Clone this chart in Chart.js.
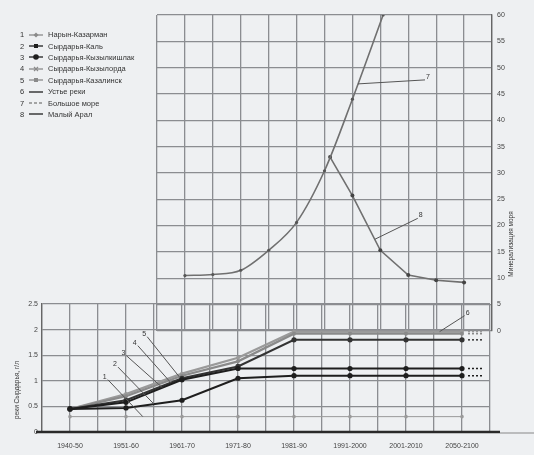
<!DOCTYPE html>
<html><head><meta charset="utf-8">
<script src="https://cdn.jsdelivr.net/npm/chart.js@4"></script>
<style>
html,body{margin:0;padding:0;background:#eef0f2;}
#wrap{position:relative;width:534px;height:455px;overflow:hidden;background:#eef0f2;font-family:"Liberation Sans",Arial,sans-serif;}
canvas{position:absolute;left:0;}
#cu{top:0;} #cl{top:290px;}
#legend{position:absolute;left:20px;top:29px;font-size:7.5px;color:#333;}
.row{height:11.4px;display:flex;align-items:center;white-space:nowrap;}
.num{width:8px;text-align:left;}
svg{margin-right:4px;}
</style></head><body>
<div id="wrap">
<canvas id="cu" width="534" height="340"></canvas>
<canvas id="cl" width="534" height="165"></canvas>
<div id="legend"></div>
</div>
<script>
// ---- data ----
const periods = ["1940-50","1951-60","1961-70","1971-80","1981-90","1991-2000","2001-2010","2050-2100"];
const legendNames = ["Нарын-Казарман","Сырдарья-Каль","Сырдарья-Кызылкишлак","Сырдарья-Кызылорда","Сырдарья-Казалинск","Устье реки","Большое море","Малый Арал"];
// river mineralization, g/l (one value per period)
const narynKazarman   = [0.30,0.30,0.30,0.30,0.30,0.30,0.30,0.30];
const syrKal          = [0.45,0.47,0.62,1.05,1.10,1.10,1.10,1.10];
const syrKyzylkishlak = [0.45,0.58,1.02,1.24,1.24,1.24,1.24,1.24];
const syrKyzylorda    = [0.45,0.62,1.05,1.28,1.80,1.80,1.80,1.80];
const syrKazalinsk    = [0.45,0.70,1.10,1.38,1.92,1.92,1.92,1.92];
const riverMouth      = [0.45,0.74,1.14,1.45,1.96,1.96,1.96,1.96];
// sea mineralization, g/l (position in period index units)
const bigSeaPos   = [2, 2.5, 3, 3.5, 4, 4.5, 5, 5.55];
const bigSea      = [10.5, 10.7, 11.5, 15.3, 20.6, 30.4, 44, 60];
const smallSeaPos = [4.6, 5, 5.5, 6, 6.5, 7];
const smallSea    = [33, 25.7, 15.3, 10.6, 9.6, 9.2];
const upperTicks = {min:0, max:60, step:5};
const lowerTicks = {min:0, max:2.5, step:0.5};

// ---- styles ----
const FONT = '"Liberation Sans", Arial, sans-serif';
const GRID = '#8b8d91';
const BLACK = '#1e1e1e', GRAY = '#8a8a8a';

const pts = (xs, ys) => xs.map((x,i)=>({x, y: ys[i]}));
const idx = arr => arr.map((v,i)=>({x:i, y:v}));

// legend
const legendStyles = [
  {c:GRAY, m:'diamond'}, {c:BLACK, m:'square'}, {c:BLACK, m:'dot'}, {c:GRAY, m:'cross'},
  {c:GRAY, m:'square'}, {c:BLACK, m:'none'}, {c:GRAY, m:'dash'}, {c:BLACK, m:'none'}];
const lg = document.getElementById('legend');
legendNames.forEach((n,i)=>{
  const s = legendStyles[i];
  let mk = '';
  if (s.m==='diamond') mk = `<path d="M8 1.5 L10.5 4 L8 6.5 L5.5 4Z" fill="${s.c}"/>`;
  if (s.m==='square') mk = `<rect x="6" y="2" width="4" height="4" fill="${s.c}"/>`;
  if (s.m==='dot') mk = `<circle cx="8" cy="4" r="2.8" fill="${s.c}"/>`;
  if (s.m==='cross') mk = `<path d="M6 2 L10 6 M10 2 L6 6" stroke="${s.c}" stroke-width="1.2"/>`;
  const dash = s.m==='dash' ? 'stroke-dasharray="3 2"' : '';
  lg.insertAdjacentHTML('beforeend',
    `<div class="row"><span class="num">${i+1}</span><svg width="16" height="8"><line x1="1" y1="4" x2="15" y2="4" stroke="${s.c}" stroke-width="1.3" ${dash}/>${mk}</svg><span>${n}</span></div>`);
});

function interp(data, xv){
  for (let i=0;i<data.length-1;i++){
    const a=data[i], b=data[i+1];
    if (xv>=a.x && xv<=b.x) return a.y + (b.y-a.y)*(xv-a.x)/(b.x-a.x);
  }
  return data[data.length-1].y;
}
function drawLeaders(chart, list){
  const {ctx, scales:{x,y}} = chart;
  ctx.save();
  ctx.strokeStyle = '#555'; ctx.lineWidth = 1; ctx.fillStyle = '#333';
  ctx.font = `7px ${FONT}`; ctx.textAlign='center'; ctx.textBaseline='middle';
  list.forEach(l=>{
    const data = chart.data.datasets[l.ds].data;
    const tx = x.getPixelForValue(l.at), ty = y.getPixelForValue(interp(data, l.at));
    const lx = tx + l.dx, ly = ty + l.dy;
    ctx.beginPath(); ctx.moveTo(lx + (l.dx<0?3:-3), ly + 3); ctx.lineTo(tx, ty); ctx.stroke();
    ctx.fillText(l.t, lx, ly);
  });
  ctx.restore();
}

// ---- upper chart (seas) ----
const upperExtras = {
  id:'upperExtras',
  afterDraw(chart){
    drawLeaders(chart, [
      {ds:0, at:5.1, dx:70, dy:-7, t:'7'},
      {ds:1, at:5.4, dx:46, dy:-24, t:'8'}]);
    const {ctx} = chart;
    ctx.save();
    ctx.translate(511, 244); ctx.rotate(-Math.PI/2);
    ctx.font = `6.5px ${FONT}`; ctx.fillStyle='#333'; ctx.textAlign='center'; ctx.textBaseline='middle';
    ctx.fillText('Минерализация моря', 0, 0);
    ctx.restore();
  }
};
new Chart(document.getElementById('cu'), {
  type:'line',
  data:{datasets:[
    {label:legendNames[6], data:pts(bigSeaPos,bigSea), borderColor:'#707070', borderWidth:1.6,
     pointRadius:1.6, pointBackgroundColor:'#555', pointBorderWidth:0, cubicInterpolationMode:'monotone'},
    {label:legendNames[7], data:pts(smallSeaPos,smallSea), borderColor:'#707070', borderWidth:1.6,
     pointRadius:2, pointBackgroundColor:'#444', pointBorderWidth:0, tension:0}
  ]},
  options:{
    responsive:false, animation:false, devicePixelRatio:1,
    layout:{padding:{left:157, top:15, right:0, bottom:7}},
    plugins:{legend:{display:false}, tooltip:{enabled:false}},
    scales:{
      x:{type:'linear', min:1.5, max:7.5, ticks:{display:false, stepSize:0.5},
         grid:{color:GRID, lineWidth:1.3, drawTicks:false}, border:{display:false},
         afterFit(s){ s.height = 0; }},
      y:{position:'right', min:upperTicks.min, max:upperTicks.max,
         ticks:{stepSize:upperTicks.step, color:'#444', font:{size:7, family:FONT}, padding:5},
         grid:{color:GRID, lineWidth:1.3, drawTicks:false}, border:{color:'#666', width:1.3},
         afterFit(s){ s.width = 42; }}
    }
  },
  plugins:[upperExtras]
});

// ---- lower chart (river) ----
const lowerExtras = {
  id:'lowerExtras',
  afterDraw(chart){
    const {ctx, chartArea:a, scales:{x,y}} = chart;
    ctx.save();
    ctx.strokeStyle='#2a2a2a'; ctx.lineWidth=2.5;
    ctx.beginPath(); ctx.moveTo(a.left-6, a.bottom); ctx.lineTo(a.right+10, a.bottom); ctx.stroke();
    ctx.strokeStyle='#888'; ctx.lineWidth=1;
    ctx.beginPath(); ctx.moveTo(a.right+10, a.bottom+1); ctx.lineTo(534, a.bottom+1); ctx.stroke();
    // short dotted continuation after last period
    chart.data.datasets.forEach((d,i)=>{
      if (i===0) return;
      const last = d.data[d.data.length-1];
      const py = y.getPixelForValue(last.y);
      ctx.strokeStyle = d.borderColor; ctx.lineWidth = 1.5; ctx.setLineDash([2,2]);
      ctx.beginPath(); ctx.moveTo(x.getPixelForValue(last.x)+6, py); ctx.lineTo(x.getPixelForValue(last.x)+22, py); ctx.stroke();
    });
    ctx.setLineDash([]);
    ctx.restore();
    drawLeaders(chart, [
      {ds:0, at:1.3, dx:-38, dy:-40, t:'1'},
      {ds:1, at:1.5, dx:-39, dy:-40, t:'2'},
      {ds:2, at:1.65, dx:-39, dy:-35, t:'3'},
      {ds:3, at:1.8, dx:-36, dy:-40, t:'4'},
      {ds:4, at:1.95, dx:-35, dy:-43, t:'5'},
      {ds:5, at:6.6, dx:28, dy:-19, t:'6'}]);
    ctx.save();
    ctx.translate(17, (a.top+a.bottom)/2 + 22); ctx.rotate(-Math.PI/2);
    ctx.font = `6.5px ${FONT}`; ctx.fillStyle='#333'; ctx.textAlign='center'; ctx.textBaseline='middle';
    ctx.fillText('реки Сырдарья, г/л', 0, 0);
    ctx.restore();
  }
};
const lowerSeries = [
  {d:narynKazarman, c:'#9a9a9a', w:1, r:1.8},
  {d:syrKal, c:BLACK, w:2, r:2.6},
  {d:syrKyzylkishlak, c:BLACK, w:2, r:2.6},
  {d:syrKyzylorda, c:'#333', w:2, r:2.6},
  {d:syrKazalinsk, c:GRAY, w:2.2, r:2},
  {d:riverMouth, c:'#9a9a9a', w:2.2, r:2}
];
new Chart(document.getElementById('cl'), {
  type:'line',
  data:{datasets: lowerSeries.map((s,i)=>({
    label:legendNames[i], data:idx(s.d), borderColor:s.c, borderWidth:s.w,
    pointRadius:s.r, pointBackgroundColor:s.c, pointBorderWidth:0, tension:0}))},
  options:{
    responsive:false, animation:false, devicePixelRatio:1,
    layout:{padding:{left:0, top:14, right:44, bottom:0}},
    plugins:{legend:{display:false}, tooltip:{enabled:false}},
    scales:{
      x:{type:'linear', min:-0.5, max:7.5,
         ticks:{stepSize:0.5, autoSkip:false, maxRotation:0, color:'#444', font:{size:7, family:FONT}, padding:10,
                callback:v => Number.isInteger(v) && v>=0 && v<periods.length ? periods[v] : ''},
         grid:{color:GRID, lineWidth:1.3, drawTicks:false}, border:{display:false},
         afterFit(s){ s.height = 23; }},
      y:{min:lowerTicks.min, max:lowerTicks.max,
         ticks:{stepSize:lowerTicks.step, color:'#444', font:{size:7, family:FONT}, padding:4,
                callback:v => String(v)},
         grid:{color:GRID, lineWidth:1.3, drawTicks:false}, border:{color:'#666', width:1.3},
         afterFit(s){ s.width = 42; }}
    }
  },
  plugins:[lowerExtras]
});
</script>
</body></html>
